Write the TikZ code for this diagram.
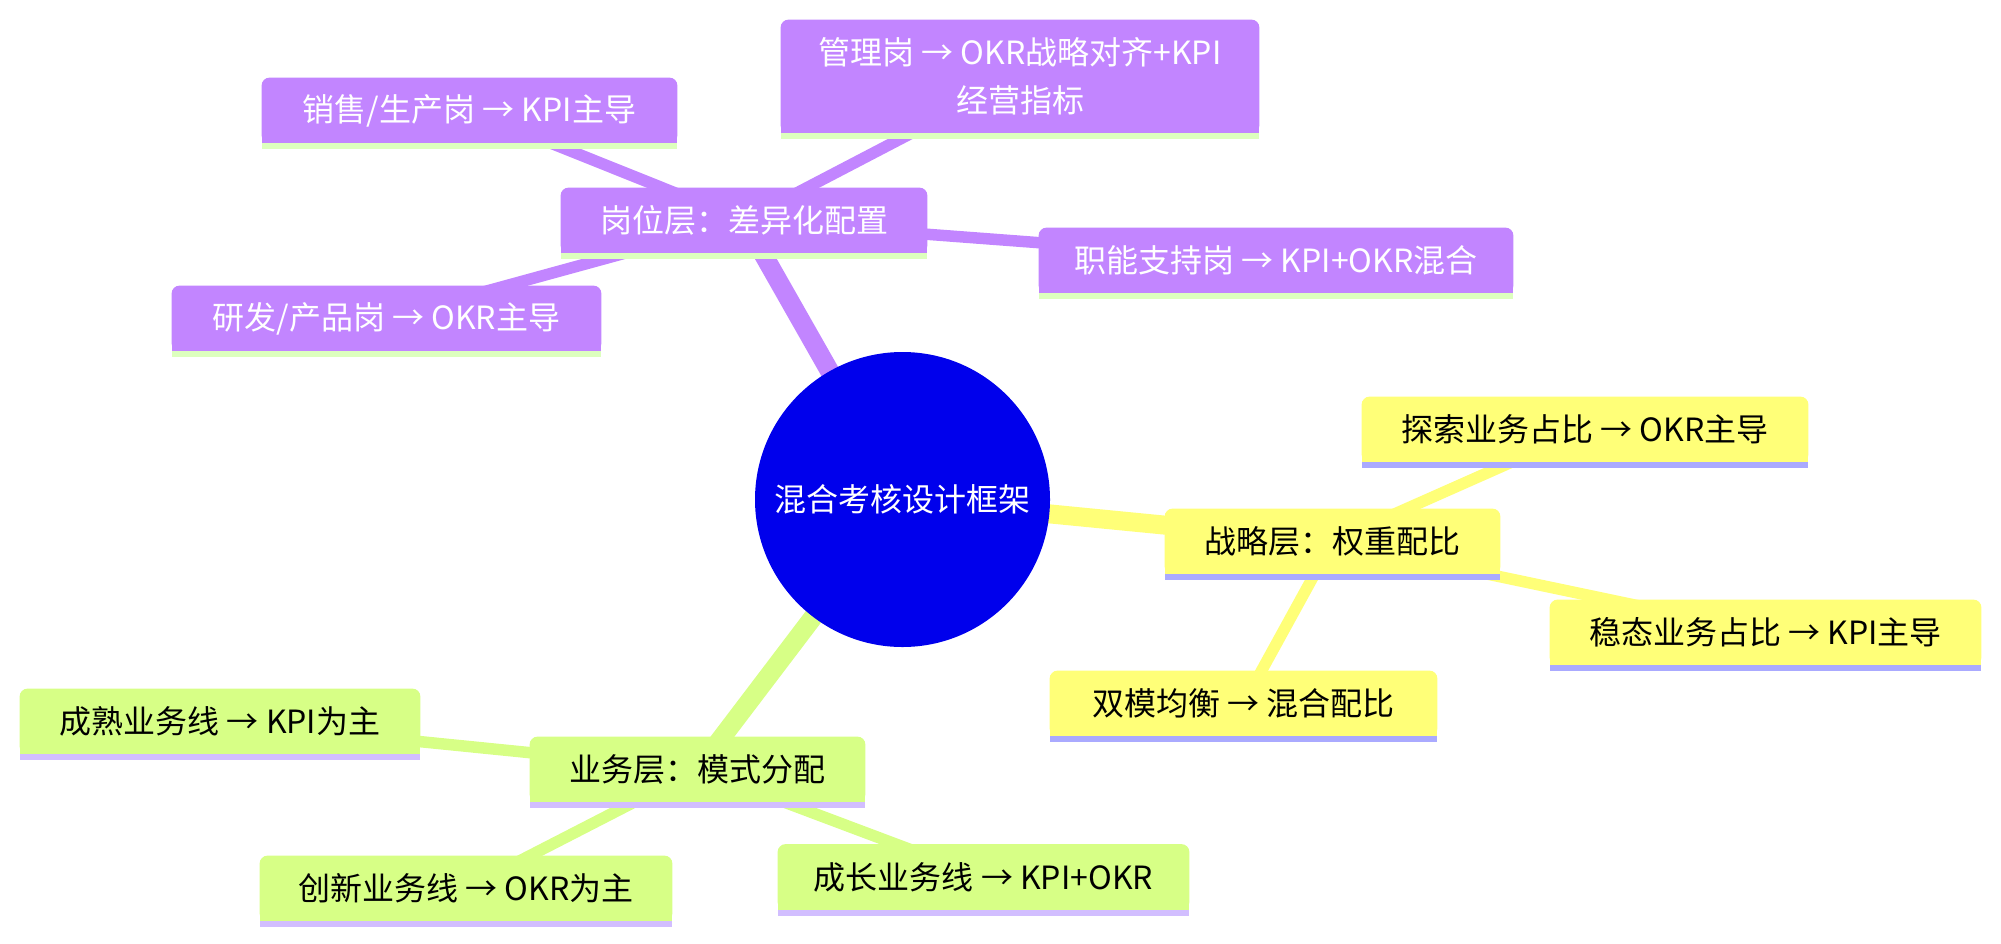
\documentclass[tikz,border=0pt]{standalone}
\usepackage{fontspec}
\setmainfont{Noto Sans CJK SC}
\pgfdeclarelayer{edgelayer}
\pgfdeclarelayer{filllayer}
\pgfsetlayers{edgelayer,filllayer,main}
\definecolor{rootblue}{RGB}{0,0,236}
\definecolor{cyel}{RGB}{255,255,120}
\definecolor{cgrn}{RGB}{215,255,134}
\definecolor{cpur}{RGB}{194,133,255}
\definecolor{uyel}{RGB}{170,170,255}
\definecolor{ugrn}{RGB}{210,190,255}
\definecolor{upur}{RGB}{221,255,190}
\newcommand\mmbox[3]{%
  \begin{pgfonlayer}{filllayer}
    \fill[#2, rounded corners=4pt] (#1.south west) rectangle (#1.north east);
    \fill[#2] (#1.west) rectangle (#1.south east);
    \fill[#3] (#1.south west) rectangle ([yshift=-3pt]#1.south east);
  \end{pgfonlayer}}
\begin{document}
\begin{tikzpicture}[x=0.5pt,y=-0.5pt,
  every node/.style={font=\fontsize{16pt}{24pt}\selectfont},
  mm/.style={inner sep=0pt, minimum height=32.5pt, align=center},
  pur/.style={mm, text=white},
  yel/.style={mm, text=black},
  grn/.style={mm, text=black},
  rootedge/.style={line width=9.5pt},
  leafedge/.style={line width=5.75pt}]
\useasboundingbox (0,0) rectangle (2001,943);

% root
\node[circle, fill=rootblue, minimum size=147.5pt, inner sep=0pt, text=white] (root) at (902.5,499.5) {混合考核设计框架};

% purple section
\node[pur, minimum width=183pt] (p) at (744,220.5) {岗位层：差异化配置};
\node[pur, minimum width=207.5pt] (s1) at (469.5,110.5) {销售/生产岗 → KPI主导};
\node[pur, minimum width=239pt, minimum height=56.5pt] (m) at (1020,76.5) {管理岗 → OKR战略对齐+KPI\\经营指标};
\node[pur, minimum width=237pt] (f) at (1276,260.5) {职能支持岗 → KPI+OKR混合};
\node[pur, minimum width=214.5pt] (r) at (386.5,318.5) {研发/产品岗 → OKR主导};

% yellow section
\node[yel, minimum width=167.5pt] (st) at (1332.5,541.5) {战略层：权重配比};
\node[yel, minimum width=223pt] (e) at (1585,429.5) {探索业务占比 → OKR主导};
\node[yel, minimum width=215.5pt] (wt) at (1765.5,632.5) {稳态业务占比 → KPI主导};
\node[yel, minimum width=193.5pt] (sm) at (1243.5,703.5) {双模均衡 → 混合配比};

% green section
\node[grn, minimum width=167.5pt] (yw) at (697.5,769.5) {业务层：模式分配};
\node[grn, minimum width=200pt] (cs) at (220,721.5) {成熟业务线 → KPI为主};
\node[grn, minimum width=206pt] (cx) at (466,888.5) {创新业务线 → OKR为主};
\node[grn, minimum width=205.5pt] (cz) at (983.5,877) {成长业务线 → KPI+OKR};

% boxes
\mmbox{p}{cpur}{upur}
\mmbox{s1}{cpur}{upur}
\mmbox{m}{cpur}{upur}
\mmbox{f}{cpur}{upur}
\mmbox{r}{cpur}{upur}
\mmbox{st}{cyel}{uyel}
\mmbox{e}{cyel}{uyel}
\mmbox{wt}{cyel}{uyel}
\mmbox{sm}{cyel}{uyel}
\mmbox{yw}{cgrn}{ugrn}
\mmbox{cs}{cgrn}{ugrn}
\mmbox{cx}{cgrn}{ugrn}
\mmbox{cz}{cgrn}{ugrn}

% edges
\begin{pgfonlayer}{edgelayer}
  \draw[rootedge, cpur] (root.center) -- (p.center);
  \draw[rootedge, cyel] (root.center) -- (st.center);
  \draw[rootedge, cgrn] (root.center) -- (yw.center);
  \draw[leafedge, cpur] (p.center) -- (s1.center);
  \draw[leafedge, cpur] (p.center) -- (m.center);
  \draw[leafedge, cpur] (p.center) -- (f.center);
  \draw[leafedge, cpur] (p.center) -- (r.center);
  \draw[leafedge, cyel] (st.center) -- (e.center);
  \draw[leafedge, cyel] (st.center) -- (wt.center);
  \draw[leafedge, cyel] (st.center) -- (sm.center);
  \draw[leafedge, cgrn] (yw.center) -- (cs.center);
  \draw[leafedge, cgrn] (yw.center) -- (cx.center);
  \draw[leafedge, cgrn] (yw.center) -- (cz.center);
\end{pgfonlayer}
\end{tikzpicture}
\end{document}
